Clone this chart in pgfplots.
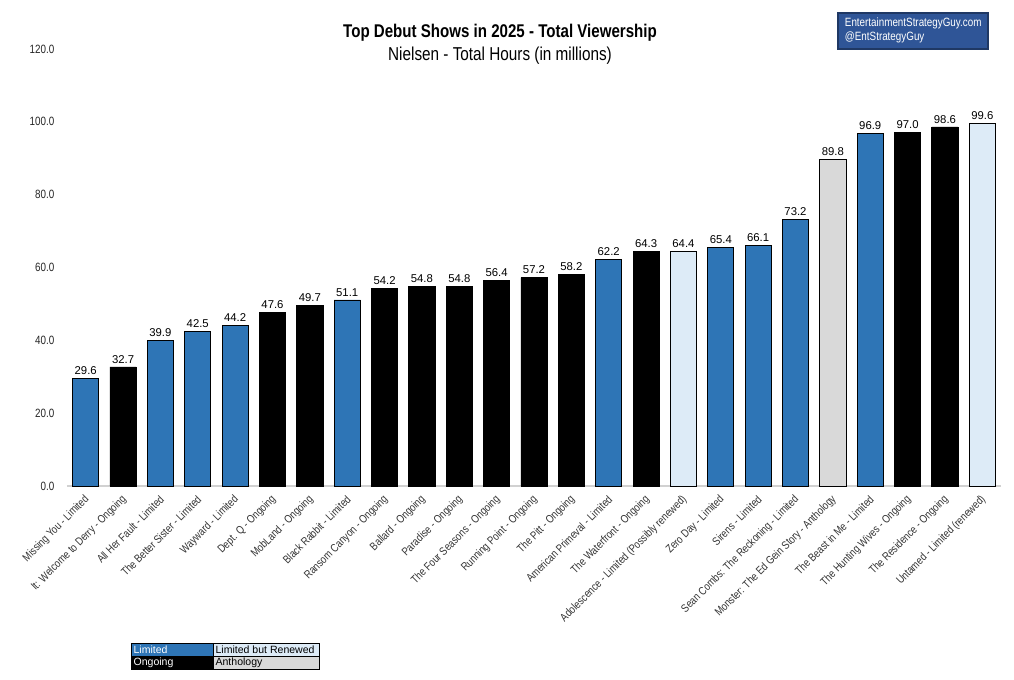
\documentclass[border=0pt]{standalone}
\usepackage{pgfplots}
\pgfplotsset{compat=1.18}
\usepackage{fontspec}
\setmainfont{Liberation Sans}
\newfontfamily\narrow[FakeStretch=0.82]{Liberation Sans}
\definecolor{lim}{HTML}{2E75B6}
\definecolor{ren}{HTML}{DDEBF7}
\definecolor{anth}{HTML}{D9D9D9}
\definecolor{boxblue}{HTML}{2F5597}
\definecolor{boxedge}{HTML}{1F3864}
\begin{document}
\begin{tikzpicture}
\path[use as bounding box, fill=white] (0,0) rectangle (760.5pt,509.25pt);
\begin{axis}[
  at={(50.25pt,144.75pt)}, anchor=south west,
  scale only axis, width=700.5pt, height=327.75pt,
  ymin=0, ymax=120, xmin=-0.5, xmax=24.5,
  ybar, bar width=0.7, bar shift=0pt,
  axis x line*=bottom, axis y line*=left,
  x axis line style={draw=black!18, line width=0.8pt, -},
  y axis line style={draw=none},
  major tick length=0pt,
  ytick={0,20,...,120},
  xtick={0,...,24},
  xticklabels={{Missing You - Limited},{It: Welcome to Derry - Ongoing},{All Her Fault - Limited},{The Better Sister - Limited},{Wayward - Limited},{Dept. Q - Ongoing},{MobLand - Ongoing},{Black Rabbit - Limited},{Ransom Canyon - Ongoing},{Ballard - Ongoing},{Paradise - Ongoing},{The Four Seasons - Ongoing},{Running Point - Ongoing},{The Pitt - Ongoing},{American Primeval - Limited},{The Waterfront - Ongoing},{Adolescence - Limited (Possibly renewed)},{Zero Day - Limited},{Sirens - Limited},{Sean Combs: The Reckoning - Limited},{Monster: The Ed Gein Story - Anthology},{The Beast in Me - Limited},{The Hunting Wives - Ongoing},{The Residence - Ongoing},{Untamed - Limited (renewed)}},
  xticklabel style={font=\narrow\fontsize{8.5}{9}\selectfont, xshift=2pt, yshift=-8pt, rotate=45, anchor=east, inner sep=1pt, color=black!80},
  yticklabel style={font=\narrow\fontsize{9}{10}\selectfont, xshift=-6pt, color=black!85},
  /pgf/number format/.cd, fixed, fixed zerofill, precision=1, assume math mode=true,
  /pgfplots/.cd,
  nodes near coords,
  every node near coord/.append style={font=\fontsize{8.5}{9}\selectfont, color=black, inner sep=1.5pt, yshift=1pt},
  clip=false,
]
\addplot[fill=lim, draw=black, line width=0.6pt] coordinates {(0,29.6)(2,39.9)(3,42.5)(4,44.2)(7,51.1)(14,62.2)(17,65.4)(18,66.1)(19,73.2)(21,96.9)};
\addplot[fill=black, draw=black, line width=0.6pt] coordinates {(1,32.7)(5,47.6)(6,49.7)(8,54.2)(9,54.8)(10,54.8)(11,56.4)(12,57.2)(13,58.2)(15,64.3)(22,97.0)(23,98.6)};
\addplot[fill=ren, draw=black, line width=0.6pt] coordinates {(16,64.4)(24,99.6)};
\addplot[fill=anth, draw=black, line width=0.6pt] coordinates {(20,89.8)};
\end{axis}
% titles
\node[font=\narrow\bfseries\fontsize{13.8}{15}\selectfont] at (375pt,485pt) {Top Debut Shows in 2025 - Total Viewership};
\node[font=\narrow\fontsize{14}{15}\selectfont] at (375pt,467.25pt) {Nielsen - Total Hours (in millions)};
% credit box
\draw[fill=boxblue, draw=boxedge, line width=0.8pt] (628.5pt,472.5pt) rectangle (741pt,499.5pt);
\node[font=\narrow\fontsize{9}{10}\selectfont, text=white, anchor=west, inner sep=0pt] at (633.5pt,492pt) {EntertainmentStrategyGuy.com};
\node[font=\narrow\fontsize{9}{10}\selectfont, text=white, anchor=west, inner sep=0pt] at (633.5pt,481.5pt) {@EntStrategyGuy};
% legend table
\fill[lim] (98.25pt,17.25pt) rectangle (159.75pt,27pt);
\fill[ren] (159.75pt,17.25pt) rectangle (239.25pt,27pt);
\fill[black] (98.25pt,7.5pt) rectangle (159.75pt,17.25pt);
\fill[anth] (159.75pt,7.5pt) rectangle (239.25pt,17.25pt);
\draw[black, line width=0.6pt] (98.25pt,7.5pt) rectangle (239.25pt,27pt);
\draw[black, line width=0.6pt] (98.25pt,17.25pt) -- (239.25pt,17.25pt);
\draw[black, line width=0.6pt] (159.75pt,7.5pt) -- (159.75pt,27pt);
\node[font=\fontsize{7.9}{8}\selectfont, text=white, anchor=west, inner sep=0pt] at (100pt,22.1pt) {Limited};
\node[font=\fontsize{7.9}{8}\selectfont, text=black, anchor=west, inner sep=0pt] at (161.5pt,22.1pt) {Limited but Renewed};
\node[font=\fontsize{7.9}{8}\selectfont, text=white, anchor=west, inner sep=0pt] at (100pt,12.4pt) {Ongoing};
\node[font=\fontsize{7.9}{8}\selectfont, text=black, anchor=west, inner sep=0pt] at (161.5pt,12.4pt) {Anthology};
\end{tikzpicture}
\end{document}
